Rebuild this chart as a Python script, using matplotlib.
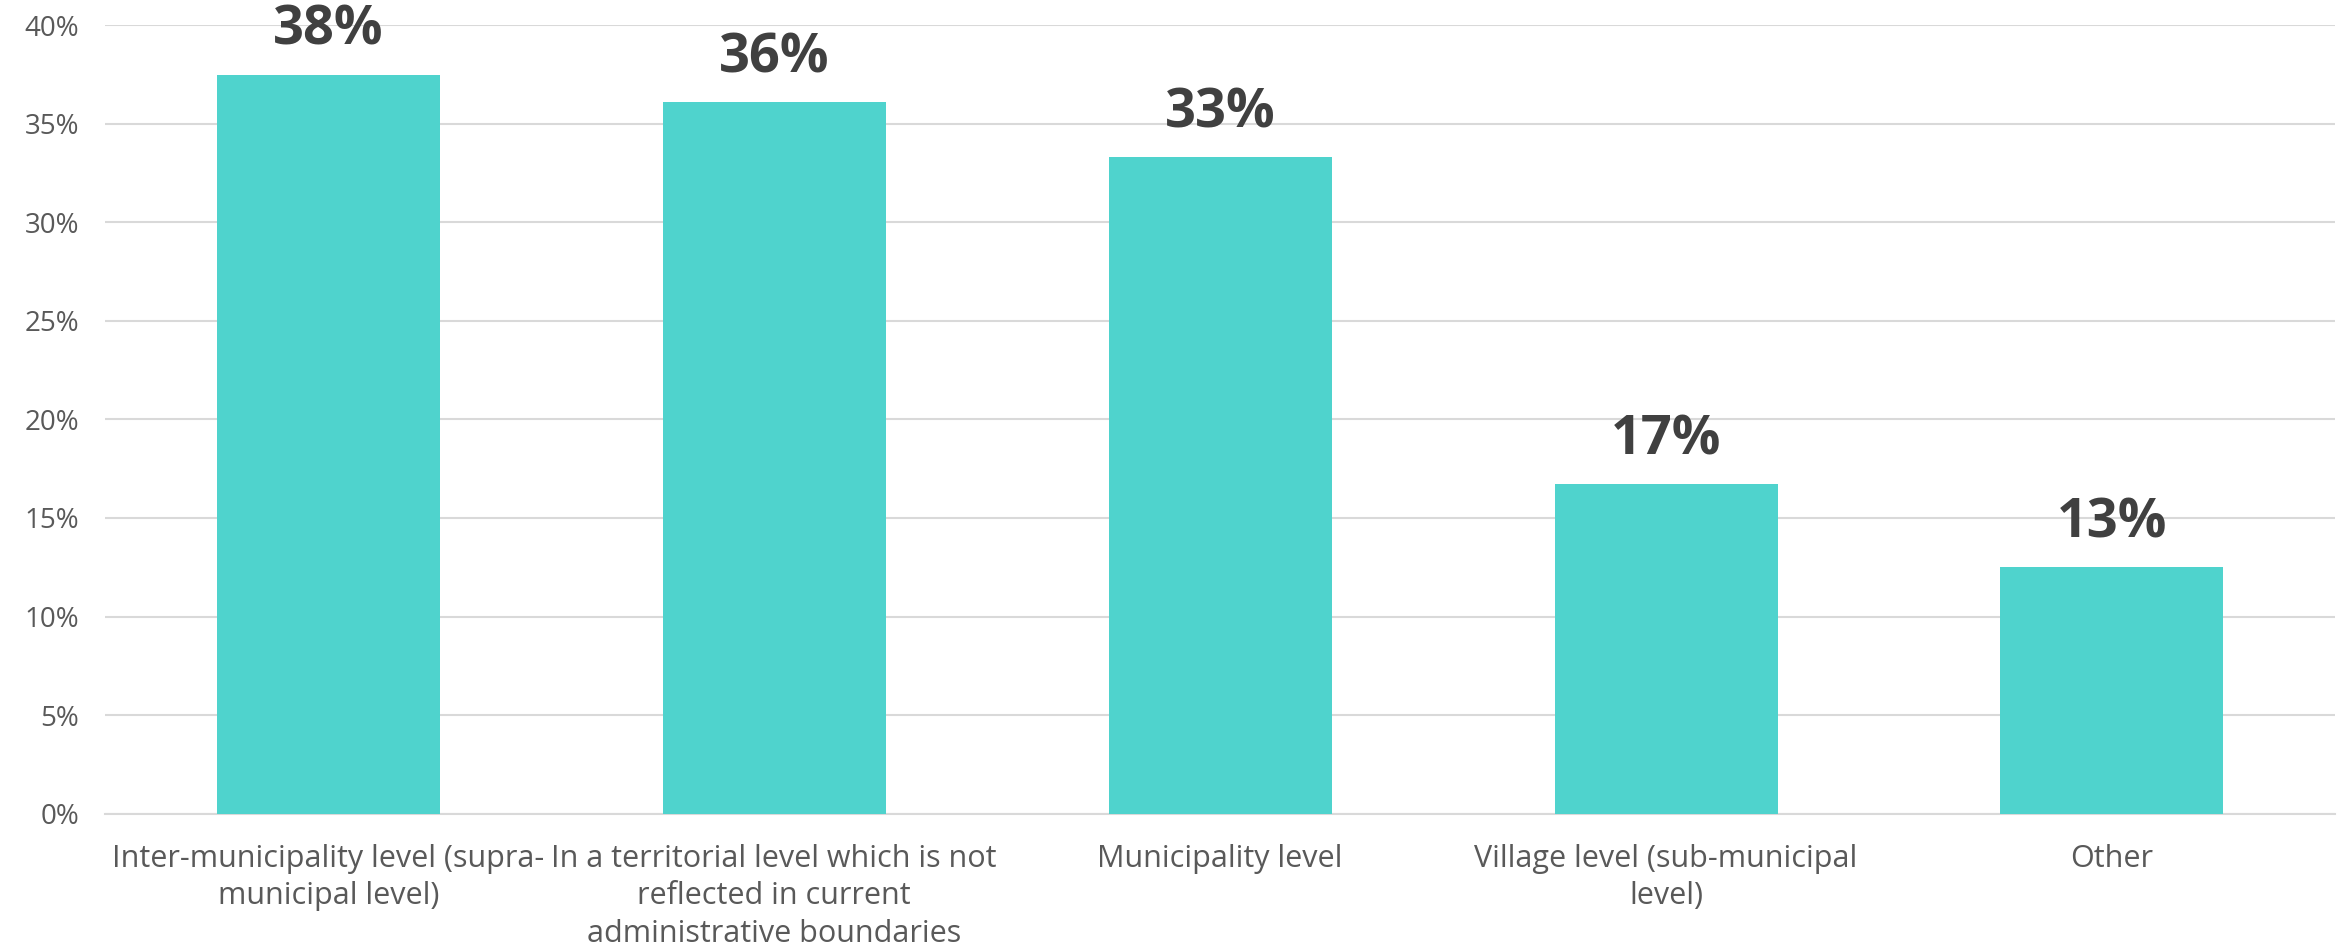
import matplotlib.pyplot as plt
from matplotlib.ticker import PercentFormatter

# Datos
categories = [
    "Inter-municipality level (supra-\nmunicipal level)",
    "In a territorial level which is not\nreflected in current\nadministrative boundaries",
    "Municipality level",
    "Village level (sub-municipal\nlevel)",
    "Other",
]
values = [0.375, 0.361, 0.333, 0.167, 0.125]
labels = ["38%", "36%", "33%", "17%", "13%"]
yticks = [0, 0.05, 0.10, 0.15, 0.20, 0.25, 0.30, 0.35, 0.40]

BAR_COLOR = "#4fd3cd"
TEXT_COLOR = "#595959"
LABEL_COLOR = "#404040"
GRID_COLOR = "#d9d9d9"

plt.rcParams['font.family'] = ['Open Sans', 'DejaVu Sans']

fig = plt.figure(figsize=(23.45, 9.46), dpi=100)
ax = fig.add_axes([0.0449, 0.14, 0.9508, 0.8332])

x = list(range(len(categories)))
bars = ax.bar(x, values, width=0.5, color=BAR_COLOR, zorder=3)

for b, txt in zip(bars, labels):
    ax.annotate(txt, (b.get_x() + b.get_width() / 2, b.get_height()),
                xytext=(0, 12), textcoords="offset points",
                ha="center", va="bottom", fontsize=39, fontweight="bold",
                color=LABEL_COLOR, zorder=4)

ax.set_xlim(-0.5, len(categories) - 0.5)
ax.set_ylim(0, 0.40)
ax.set_yticks(yticks)
ax.yaxis.set_major_formatter(PercentFormatter(1.0, decimals=0))
ax.grid(axis="y", color=GRID_COLOR, linewidth=1.5, zorder=0)
ax.set_axisbelow(True)

ax.set_xticks(x)
ax.set_xticklabels(categories, fontsize=22, color=TEXT_COLOR, linespacing=1.32)
ax.tick_params(axis="x", length=0, pad=22)
ax.tick_params(axis="y", length=0, pad=19, labelsize=20, labelcolor=TEXT_COLOR)

for s in ["top", "right", "left"]:
    ax.spines[s].set_visible(False)
ax.spines["bottom"].set_color(GRID_COLOR)
ax.spines["bottom"].set_linewidth(1.5)

plt.savefig("out.png", dpi=100)
